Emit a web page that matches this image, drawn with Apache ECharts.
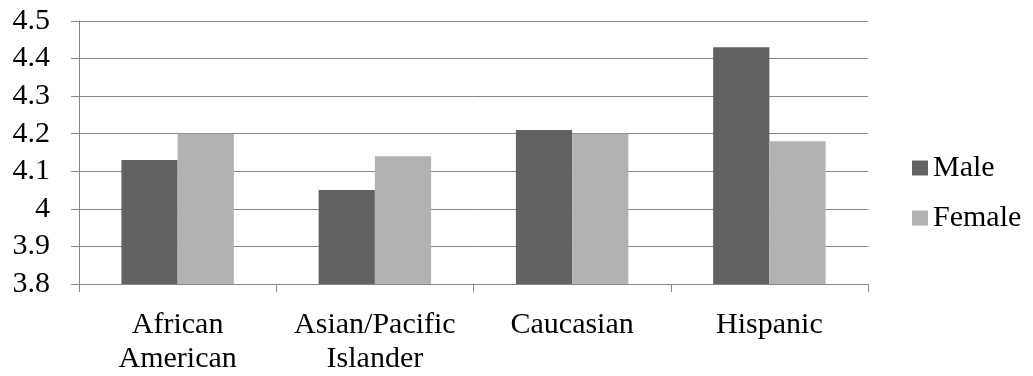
<!DOCTYPE html>
<html><head><meta charset="utf-8">
<script src="https://cdn.jsdelivr.net/npm/echarts@6/dist/echarts.min.js"></script>
<style>html,body{margin:0;padding:0;background:#fff}#c{width:1033px;height:376px}</style>
</head><body><div id="c"></div>
<script>
const categories = ['African\nAmerican', 'Asian/Pacific\nIslander', 'Caucasian', 'Hispanic'];
const maleValues = [4.13, 4.05, 4.21, 4.43];
const femaleValues = [4.20, 4.14, 4.20, 4.18];
const seriesNames = ['Male', 'Female'];

const font = '"Liberation Serif", "Times New Roman", serif';
const chart = echarts.init(document.getElementById('c'), null, {renderer: 'canvas'});
chart.setOption({
  animation: false,
  backgroundColor: '#fff',
  grid: {left: 79, right: 165, top: 21, bottom: 91},
  legend: {
    orient: 'vertical', left: 912, top: 153, padding: 0,
    itemWidth: 16, itemHeight: 15, itemGap: 20,
    icon: 'rect',
    textStyle: {fontFamily: font, fontSize: 30, lineHeight: 30, color: '#000'},
    data: seriesNames
  },
  xAxis: {
    type: 'category', data: categories,
    axisLine: {lineStyle: {color: '#868686', width: 1}},
    axisTick: {show: true, length: 8, lineStyle: {color: '#868686'}},
    axisLabel: {fontFamily: font, fontSize: 30, color: '#000', margin: 24, lineHeight: 34,
      interval: 0, hideOverlap: false}
  },
  yAxis: {
    type: 'value', min: 3.8, max: 4.5, interval: 0.1,
    axisLine: {show: true, lineStyle: {color: '#868686'}},
    axisTick: {show: true, length: 8, lineStyle: {color: '#868686'}},
    splitLine: {lineStyle: {color: '#868686', width: 1}},
    axisLabel: {fontFamily: font, fontSize: 30, color: '#000', margin: 29,
      formatter: v => String(Math.round(v * 10) / 10)}
  },
  series: [
    {name: seriesNames[0], type: 'bar', data: maleValues, barGap: '0%', barCategoryGap: '43%',
     itemStyle: {color: '#626262'}},
    {name: seriesNames[1], type: 'bar', data: femaleValues,
     itemStyle: {color: '#b2b2b2'}}
  ]
});
</script></body></html>
